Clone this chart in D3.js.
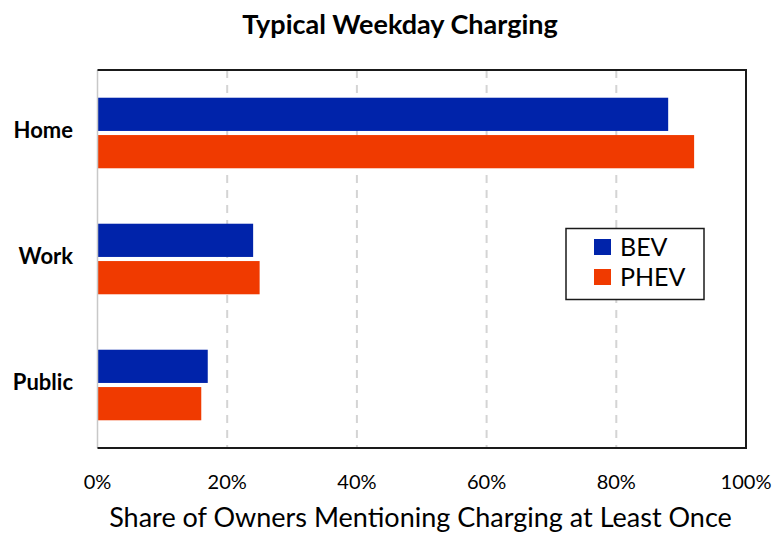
<!DOCTYPE html>
<html>
<head>
<meta charset="utf-8">
<script src="https://cdn.jsdelivr.net/npm/d3@7"></script>
<style>
  body { margin: 0; background: #fff; }
  text { font-family: Lato, "Open Sans", sans-serif; fill: #000; }
</style>
</head>
<body>
<div id="chart"></div>
<script>
// data
const categories = ['Home', 'Work', 'Public'];
const seriesNames = ['BEV', 'PHEV'];
const bevValues = [0.88, 0.24, 0.17];
const phevValues = [0.92, 0.25, 0.16];
const xTicks = [0, 0.2, 0.4, 0.6, 0.8, 1.0];
const colors = ['#0023AA', '#F03A00'];

const width = 774, height = 534;
const margin = {top: 70, right: 28, bottom: 86, left: 97.5};

const svg = d3.select('#chart').append('svg')
    .attr('width', width)
    .attr('height', height);

const x = d3.scaleLinear()
    .domain([0, 1])
    .range([margin.left, width - margin.right]);

const y0 = d3.scaleBand()
    .domain(categories)
    .range([margin.top, height - margin.bottom])
    .paddingInner(0.44)
    .paddingOuter(0.22);

const y1 = d3.scaleBand()
    .domain(seriesNames)
    .range([0, y0.bandwidth()])
    .paddingInner(0.11);

const color = d3.scaleOrdinal().domain(seriesNames).range(colors);

const rows = categories.map((c, i) => ({cat: c, values: [bevValues[i], phevValues[i]]}));

const plotTop = margin.top, plotBottom = height - margin.bottom;

// gridlines
svg.append('g')
    .selectAll('line')
    .data(xTicks.slice(1, -1))
    .join('line')
    .attr('x1', d => x(d)).attr('x2', d => x(d))
    .attr('y1', plotTop).attr('y2', plotBottom)
    .attr('stroke', '#d4d4d4')
    .attr('stroke-width', 2)
    .attr('stroke-dasharray', '8,7');

// bars
const groups = svg.append('g')
    .selectAll('g')
    .data(rows)
    .join('g')
    .attr('transform', d => `translate(0,${y0(d.cat)})`);

groups.selectAll('rect')
    .data(d => d.values.map((v, j) => ({key: seriesNames[j], value: v})))
    .join('rect')
    .attr('x', x(0))
    .attr('y', d => y1(d.key))
    .attr('width', d => x(d.value) - x(0))
    .attr('height', y1.bandwidth())
    .attr('fill', d => color(d.key));

// frame: light left axis, dark on the other sides
svg.append('line')
    .attr('x1', x(0)).attr('x2', x(0))
    .attr('y1', plotTop).attr('y2', plotBottom)
    .attr('stroke', '#c8c8c8').attr('stroke-width', 1.5);
svg.append('path')
    .attr('d', `M${x(0)},${plotTop}H${x(1)}V${plotBottom}H${x(0)}`)
    .attr('fill', 'none')
    .attr('stroke', '#1a1a1a')
    .attr('stroke-width', 2);

// x tick labels
svg.append('g')
    .selectAll('text')
    .data(xTicks)
    .join('text')
    .attr('x', d => x(d))
    .attr('y', 489)
    .attr('text-anchor', 'middle')
    .style('font-size', '20px')
    .text(d3.format('.0%'));

// category labels
svg.append('g')
    .selectAll('text')
    .data(categories)
    .join('text')
    .attr('x', 73)
    .attr('y', d => y0(d) + y0.bandwidth() / 2)
    .attr('dy', '0.22em')
    .attr('text-anchor', 'end')
    .style('font-size', '22px')
    .style('font-weight', 'bold')
    .text(d => d);

// title
svg.append('text')
    .attr('x', 400)
    .attr('y', 34)
    .attr('text-anchor', 'middle')
    .style('font-size', '27px')
    .style('font-weight', 'bold')
    .text('Typical Weekday Charging');

// x axis title
svg.append('text')
    .attr('x', 420.5)
    .attr('y', 527)
    .attr('text-anchor', 'middle')
    .style('font-size', '27px')
    .text('Share of Owners Mentioning Charging at Least Once');

// legend
const legend = svg.append('g').attr('transform', 'translate(566,228.5)');
legend.append('rect')
    .attr('width', 138).attr('height', 71)
    .attr('fill', '#fff')
    .attr('stroke', '#1a1a1a')
    .attr('stroke-width', 1.5);
const items = legend.selectAll('g')
    .data(seriesNames)
    .join('g')
    .attr('transform', (d, i) => `translate(28,${10.5 + i * 30})`);
items.append('rect')
    .attr('width', 17).attr('height', 16)
    .attr('fill', d => color(d));
items.append('text')
    .attr('x', 26)
    .attr('y', 17)
    .style('font-size', '25px')
    .text(d => d);
</script>
</body>
</html>
